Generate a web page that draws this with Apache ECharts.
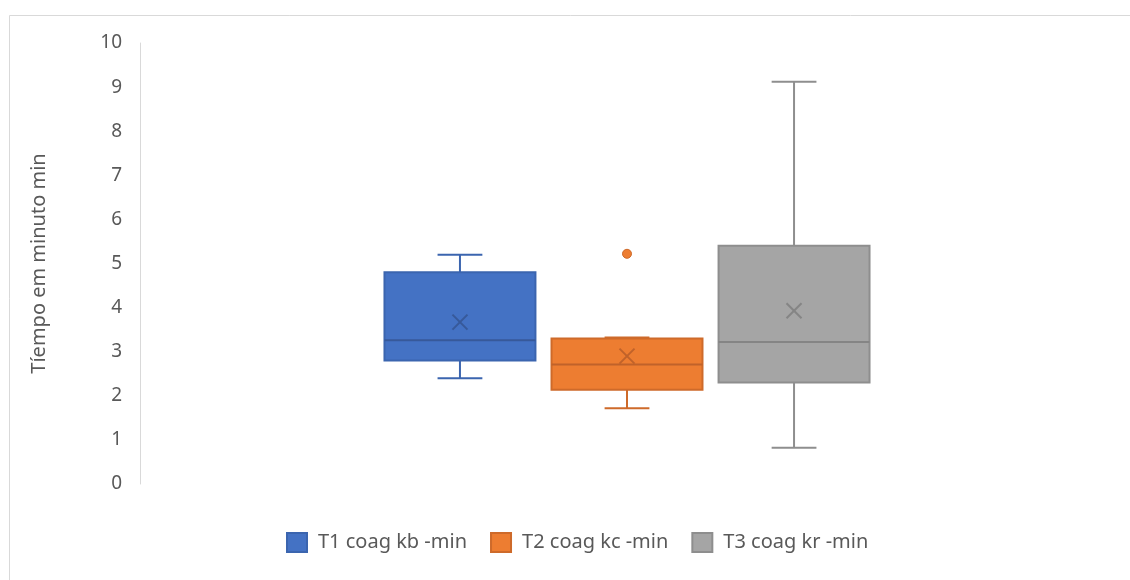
<!DOCTYPE html>
<html>
<head>
<meta charset="utf-8">
<script src="https://cdn.jsdelivr.net/npm/echarts@6/dist/echarts.min.js"></script>
<style>
  html, body { margin: 0; padding: 0; background: #fff; }
  #chart { width: 1130px; height: 580px; }
</style>
</head>
<body>
<div id="chart"></div>
<script>
// Five-number summaries per treatment (minutes)
const seriesNames = ['T1 coag kb -min', 'T2 coag kc -min', 'T3 coag kr -min'];
const whiskerLow = [2.4, 1.72, 0.82];
const quartile1 = [2.8, 2.14, 2.3];
const medians = [3.26, 2.71, 3.22];
const quartile3 = [4.8, 3.3, 5.4];
const whiskerHigh = [5.2, 3.32, 9.12];
const means = [3.67, 2.9, 3.93];
const outliers = [[], [5.22], []];
const yTicks = [0, 1, 2, 3, 4, 5, 6, 7, 8, 9, 10];

const fills = ['#4472C4', '#ED7D31', '#A5A5A5'];
const strokes = ['#3B65AF', '#CE6A2A', '#8E8E8E'];
const meanColors = ['#37599A', '#C0622A', '#858585'];

// Horizontal placement of each box within the single category band
const boxSpacing = 0.1715;   // centre-to-centre, fraction of band
const boxFrac = 0.155;       // box width, fraction of band
const capFrac = 0.046;       // whisker cap width, fraction of band

const chart = echarts.init(document.getElementById('chart'));

function renderBox(params, api) {
  const i = params.seriesIndex;
  const band = api.size([1, 0])[0];
  const cx = api.coord([api.value(0), 0])[0] + (i - 1) * band * boxSpacing;
  const bw = band * boxFrac;
  const cw = band * capFrac;
  const y = v => api.coord([0, v])[1];
  const yLo = y(api.value(1)), yQ1 = y(api.value(2)), yMed = y(api.value(3));
  const yQ3 = y(api.value(4)), yHi = y(api.value(5)), yMean = y(api.value(6));
  const line = { stroke: strokes[i], lineWidth: 2 };
  const children = [
    { type: 'line', shape: { x1: cx, y1: yQ1, x2: cx, y2: yLo }, style: line },
    { type: 'line', shape: { x1: cx - cw / 2, y1: yLo, x2: cx + cw / 2, y2: yLo }, style: line },
    { type: 'line', shape: { x1: cx, y1: yQ3, x2: cx, y2: yHi }, style: line },
    { type: 'line', shape: { x1: cx - cw / 2, y1: yHi, x2: cx + cw / 2, y2: yHi }, style: line },
    { type: 'rect', shape: { x: cx - bw / 2, y: yQ3, width: bw, height: yQ1 - yQ3 },
      style: { fill: fills[i], stroke: strokes[i], lineWidth: 2 } },
    { type: 'line', shape: { x1: cx - bw / 2, y1: yMed, x2: cx + bw / 2, y2: yMed },
      style: { stroke: meanColors[i], lineWidth: 2 } }
  ];
  // mean marker drawn as an "x"
  const m = 7.5;
  children.push(
    { type: 'line', shape: { x1: cx - m, y1: yMean - m, x2: cx + m, y2: yMean + m },
      style: { stroke: meanColors[i], lineWidth: 2 } },
    { type: 'line', shape: { x1: cx - m, y1: yMean + m, x2: cx + m, y2: yMean - m },
      style: { stroke: meanColors[i], lineWidth: 2 } }
  );
  outliers[i].forEach(v => {
    children.push({ type: 'circle', shape: { cx: cx, cy: y(v), r: 4.5 },
      style: { fill: fills[i], stroke: strokes[i], lineWidth: 1 } });
  });
  return { type: 'group', children: children };
}

const series = seriesNames.map((name, i) => ({
  name: name,
  type: 'custom',
  renderItem: renderBox,
  itemStyle: { color: fills[i], borderColor: strokes[i], borderWidth: 1 },
  encode: { x: 0, y: [1, 2, 3, 4, 5] },
  data: [[0, whiskerLow[i], quartile1[i], medians[i], quartile3[i], whiskerHigh[i], means[i]]]
}));

chart.setOption({
  animation: false,
  backgroundColor: '#fff',
  textStyle: { fontFamily: 'Noto Sans' },
  graphic: [{
    type: 'rect', left: 7, top: 13, silent: true,
    shape: { width: 1200, height: 700 },
    style: { fill: 'none', stroke: '#d9d9d9', lineWidth: 1 }
  }],
  grid: { left: 140, right: 16, top: 43, bottom: 96 },
  xAxis: {
    type: 'category',
    data: [''],
    axisLine: { show: false },
    axisTick: { show: false },
    axisLabel: { show: false }
  },
  yAxis: {
    type: 'value',
    min: yTicks[0],
    max: yTicks[yTicks.length - 1],
    interval: 1,
    name: 'Tíempo em minuto min',
    nameLocation: 'middle',
    nameGap: 91,
    nameTextStyle: { color: '#595959', fontSize: 20, fontFamily: 'Noto Sans' },
    axisLine: { show: true, lineStyle: { color: '#d9d9d9', width: 1 } },
    axisTick: { show: false },
    splitLine: { show: false },
    axisLabel: { color: '#595959', fontSize: 19, margin: 18, fontFamily: 'Noto Sans' }
  },
  legend: {
    top: 532,
    left: 286,
    padding: 0,
    itemWidth: 20,
    itemHeight: 19,
    itemGap: 23,
    icon: 'rect',
    textStyle: { color: '#595959', fontSize: 20, fontFamily: 'Noto Sans', padding: [0, 0, 0, 6] },
    data: seriesNames
  },
  series: series
});
</script>
</body>
</html>
